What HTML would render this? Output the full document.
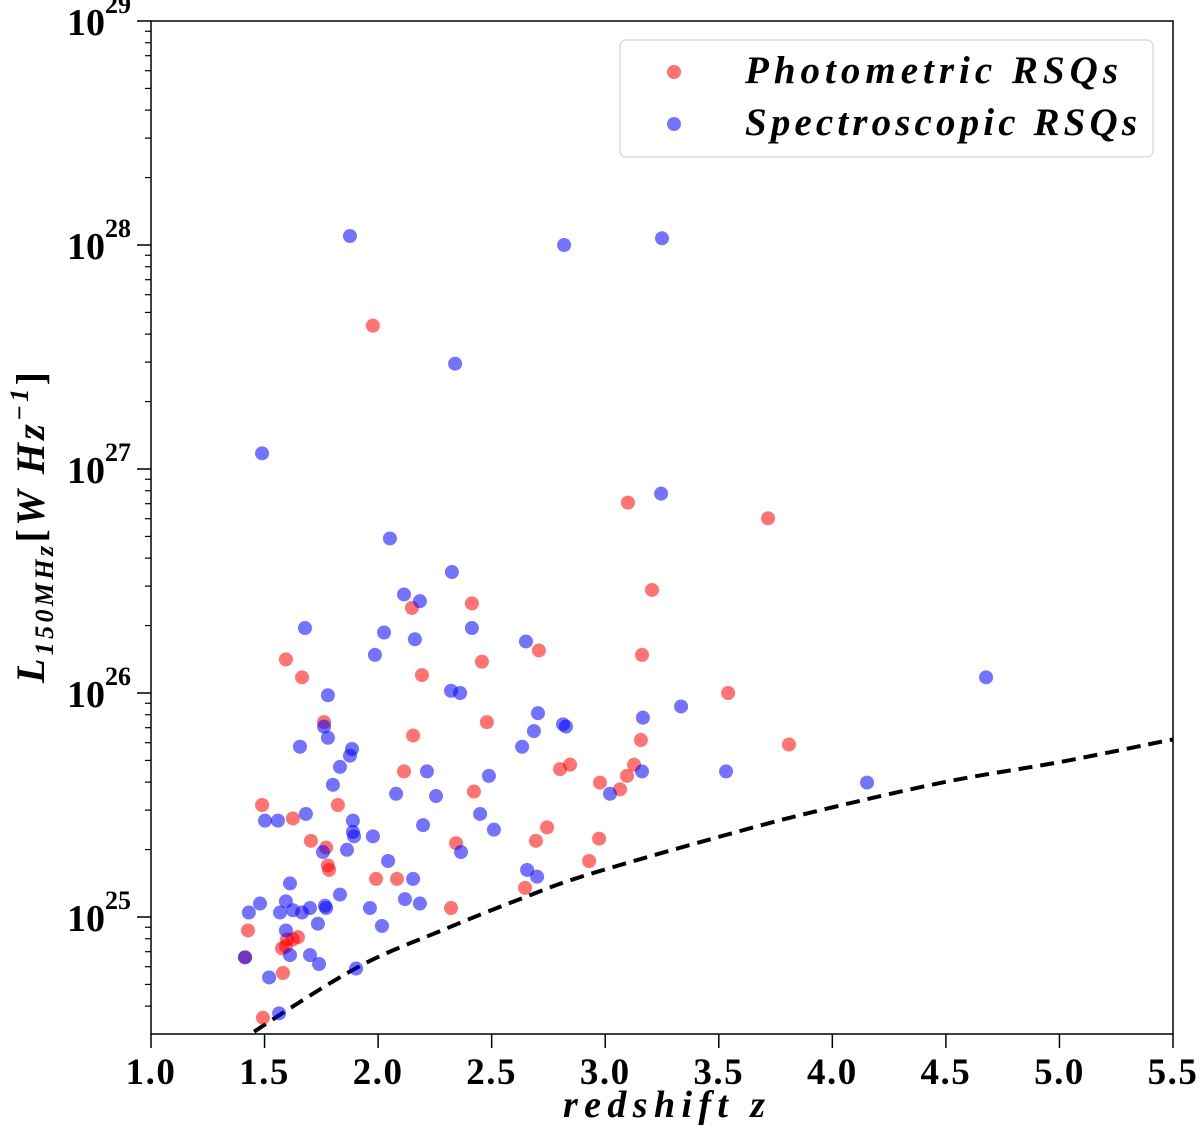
<!DOCTYPE html>
<html><head><meta charset="utf-8"><style>
html,body{margin:0;padding:0;background:#fff}
svg{display:block}
text{font-family:"Liberation Serif",serif;font-weight:bold;fill:#000}
</style></head><body>
<svg id="chart" width="1200" height="1135" viewBox="0 0 1200 1135" xmlns="http://www.w3.org/2000/svg">
<defs><clipPath id="clip"><rect x="151" y="21" width="1022" height="1013"/></clipPath></defs>
<g id="axes"></g>
<g id="marks" clip-path="url(#clip)"></g>
<g id="legend">
<rect x="620" y="40" width="533" height="117" rx="6" fill="#fff" fill-opacity="0.8" stroke="#ddd" stroke-width="1.5"/>
<circle cx="674" cy="72" r="7" fill="#ff0000" fill-opacity="0.55"/>
<text x="745" y="83" font-size="39" font-style="italic" textLength="373" lengthAdjust="spacing">Photometric RSQs</text>
<circle cx="674" cy="124" r="7" fill="#0000ff" fill-opacity="0.55"/>
<text x="745" y="135" font-size="39" font-style="italic" textLength="392" lengthAdjust="spacing">Spectroscopic RSQs</text>
</g>
<text x="563" y="1117" font-size="38" font-style="italic" textLength="202" lengthAdjust="spacing">redshift z</text>
<text transform="translate(44,683) rotate(-90)" font-size="40" font-style="italic" textLength="311" lengthAdjust="spacing">L<tspan font-size="26" dy="9">150MHz</tspan><tspan dy="-9" font-style="normal">[</tspan>W Hz<tspan font-size="26" dy="-16">−1</tspan><tspan dy="16" font-style="normal">]</tspan></text>
</svg>
<script>
const xTicks=[1.0,1.5,2.0,2.5,3.0,3.5,4.0,4.5,5.0,5.5];
const xTickLabels=["1.0","1.5","2.0","2.5","3.0","3.5","4.0","4.5","5.0","5.5"];
const yDecades=[25,26,27,28,29];
const photoZ=[1.594,1.665,2.193,2.457,2.708,2.413,2.149,1.977,1.762,2.154,2.479,2.114,2.422,1.823,1.489,1.625,1.704,1.771,1.779,1.784,1.991,2.083,2.343,2.695,2.744,2.321,2.647,1.427,1.599,1.647,1.625,1.577,1.594,1.414,1.581,1.493,2.801,2.845,2.929,2.973,2.977,3.065,3.096,3.127,3.100,3.157,3.162,3.206,3.541,3.717,3.809];
const photoLogL=[26.15,26.07,26.08,26.14,26.19,26.40,26.38,27.64,25.87,25.81,25.87,25.65,25.56,25.50,25.50,25.44,25.34,25.31,25.23,25.21,25.17,25.17,25.33,25.34,25.40,25.04,25.13,24.94,24.90,24.91,24.90,24.86,24.87,24.82,24.75,24.55,25.66,25.68,25.25,25.35,25.60,25.57,25.63,25.68,26.85,25.79,26.17,26.46,26.00,26.78,25.77];
const specZ=[1.876,2.819,3.250,2.339,1.489,3.246,2.052,2.325,2.114,2.184,1.678,2.026,2.162,2.413,1.986,2.651,1.779,2.321,2.361,3.334,3.166,2.704,2.686,2.634,2.814,2.827,1.762,1.779,1.656,1.885,1.876,1.832,1.801,2.215,2.079,2.255,2.488,2.449,2.510,3.162,3.021,3.532,4.153,1.502,1.559,1.682,1.889,1.889,1.894,1.977,2.198,1.757,1.863,2.044,2.365,2.656,2.700,2.154,1.612,1.832,1.480,1.431,1.594,1.568,1.625,1.665,1.700,1.766,1.771,1.964,2.118,2.184,2.017,1.735,1.594,1.414,1.612,1.700,1.740,1.520,1.903,1.564,4.677];
const specLogL=[28.04,28.00,28.03,27.47,27.07,26.89,26.69,26.54,26.44,26.41,26.29,26.27,26.24,26.29,26.17,26.23,25.99,26.01,26.00,25.94,25.89,25.91,25.83,25.76,25.86,25.85,25.85,25.80,25.76,25.75,25.72,25.67,25.59,25.65,25.55,25.54,25.63,25.46,25.39,25.65,25.55,25.65,25.60,25.43,25.43,25.46,25.43,25.38,25.36,25.36,25.41,25.29,25.30,25.25,25.29,25.21,25.18,25.17,25.15,25.10,25.06,25.02,25.07,25.02,25.03,25.02,25.04,25.05,25.04,25.04,25.08,25.06,24.96,24.97,24.94,24.82,24.83,24.83,24.79,24.73,24.77,24.57,26.07];
const limitZ=[1.30,1.445,1.903,2.273,2.647,2.933,3.594,4.007,4.518,5.003,5.487,5.6];
const limitLogL=[24.37,24.482,24.772,24.937,25.089,25.192,25.384,25.491,25.607,25.692,25.790,25.81];

const NS="http://www.w3.org/2000/svg";
const X0=151,X1=1173,Y0=21,Y1=1034;
const zMin=1.0,zMax=5.5,lMin=29-(Y1-Y0)/224,lMax=29;
const xs=z=>X0+(z-zMin)/(zMax-zMin)*(X1-X0);
const ys=l=>Y0+(lMax-l)/(lMax-lMin)*(Y1-Y0);
function mk(tag,attrs,parent){const e=document.createElementNS(NS,tag);for(const k in attrs)e.setAttribute(k,attrs[k]);parent.appendChild(e);return e;}
const axes=document.getElementById('axes'),marks=document.getElementById('marks');
let e;
e=mk('rect',{x:X0,y:Y0,width:X1-X0,height:Y1-Y0,fill:'none',stroke:'#000','stroke-width':1.5},axes);


xTicks.forEach((t,i)=>{
  const x=xs(t);
  const tk=mk('line',{x1:x,y1:Y1,x2:x,y2:Y1+14,stroke:'#000','stroke-width':1.5},axes);
  
  
  const lb=mk('text',{x:x,y:1084,'font-size':37,'text-anchor':'middle','letter-spacing':1.5},axes);
  lb.textContent=xTickLabels[i];
  
  
});
yDecades.forEach(d=>{
  const y=ys(d);
  const tk=mk('line',{x1:X0-14,y1:y,x2:X0,y2:y,stroke:'#000','stroke-width':1.5},axes);
  
  
  const lb=mk('text',{x:X0-20,y:y+14,'font-size':38,'text-anchor':'end'},axes);
  lb.innerHTML='10<tspan font-size="26" dy="-22">'+d+'</tspan>';
  
  
});
for(let d=24;d<29;d++){for(let m=2;m<10;m++){const l=d+Math.log10(m);if(l<lMin||l>lMax)continue;const y=ys(l);
  const tk=mk('line',{x1:X0-6,y1:y,x2:X0,y2:y,stroke:'#000','stroke-width':1.2},axes);
  
  }}
const P=limitZ.map((z,i)=>[xs(z),ys(limitLogL[i])]);
let dpath='M'+P[0][0].toFixed(1)+' '+P[0][1].toFixed(1);
for(let i=0;i<P.length-1;i++){const p0=P[Math.max(0,i-1)],p1=P[i],p2=P[i+1],p3=P[Math.min(P.length-1,i+2)];
  const c1=[p1[0]+(p2[0]-p0[0])/6,p1[1]+(p2[1]-p0[1])/6],c2=[p2[0]-(p3[0]-p1[0])/6,p2[1]-(p3[1]-p1[1])/6];
  dpath+='C'+c1[0].toFixed(1)+' '+c1[1].toFixed(1)+' '+c2[0].toFixed(1)+' '+c2[1].toFixed(1)+' '+p2[0].toFixed(1)+' '+p2[1].toFixed(1);}
e=mk('path',{d:dpath,fill:'none',stroke:'#000','stroke-width':4,'stroke-dasharray':'14 8'},marks);


photoZ.forEach((z,i)=>{const c=mk('circle',{cx:xs(z),cy:ys(photoLogL[i]),r:7,fill:'#ff0000','fill-opacity':0.55},marks);
  
  });
specZ.forEach((z,i)=>{const c=mk('circle',{cx:xs(z),cy:ys(specLogL[i]),r:7,fill:'#0000ff','fill-opacity':0.55},marks);
  
  });
</script>
</body></html>
